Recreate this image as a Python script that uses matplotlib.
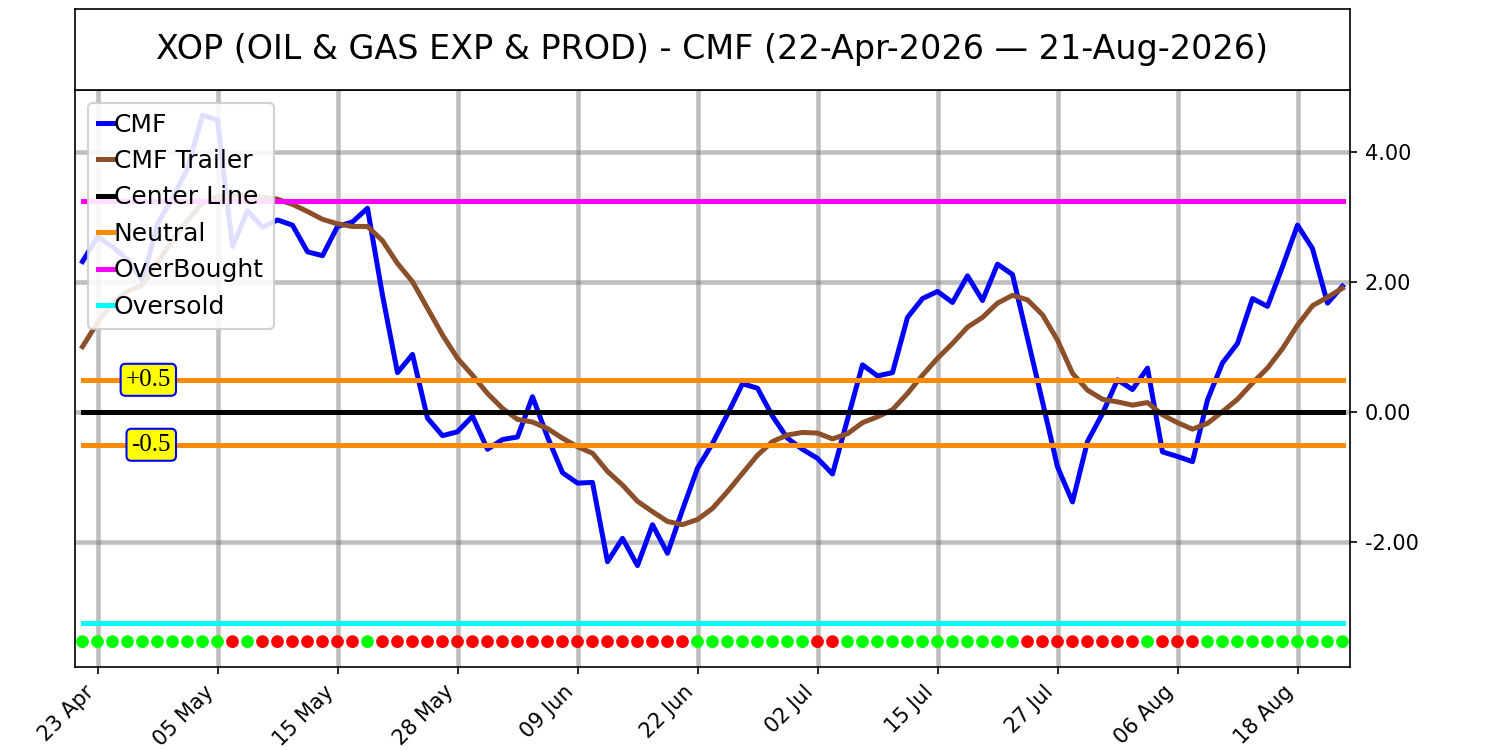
import numpy as np
import matplotlib
matplotlib.use("Agg")
import matplotlib.pyplot as plt

title = "XOP (OIL & GAS EXP & PROD) - CMF (22-Apr-2026 \u2014 21-Aug-2026)"

cmf = [2.32, 2.70, 2.55, 2.35, 2.02, 2.90, 3.30, 3.75, 4.57, 4.50,
       2.55, 3.10, 2.85, 2.96, 2.88, 2.47, 2.41, 2.86, 2.93, 3.14,
       1.80, 0.61, 0.89, -0.09, -0.36, -0.30, -0.06, -0.57, -0.42, -0.38,
       0.24, -0.38, -0.93, -1.09, -1.08, -2.30, -1.94, -2.36, -1.73, -2.17,
       -1.50, -0.86, -0.48, -0.03, 0.44, 0.37, -0.06, -0.40, -0.57, -0.71,
       -0.95, -0.11, 0.73, 0.56, 0.61, 1.46, 1.75, 1.86, 1.69, 2.10,
       1.72, 2.28, 2.12, 1.14, 0.16, -0.84, -1.38, -0.45, -0.02, 0.50,
       0.35, 0.68, -0.61, -0.68, -0.76, 0.19, 0.76, 1.06, 1.75, 1.63,
       2.24, 2.88, 2.52, 1.68, 1.94]

trailer = [1.01, 1.38, 1.68, 1.86, 1.96, 2.30, 2.65, 2.95, 3.22, 3.32,
           3.33, 3.33, 3.31, 3.28, 3.20, 3.09, 2.97, 2.90, 2.86, 2.86,
           2.64, 2.29, 2.01, 1.60, 1.19, 0.83, 0.57, 0.29, 0.06, -0.11,
           -0.15, -0.25, -0.40, -0.53, -0.63, -0.91, -1.12, -1.37, -1.53, -1.68,
           -1.73, -1.65, -1.48, -1.22, -0.94, -0.66, -0.45, -0.35, -0.31, -0.32,
           -0.41, -0.33, -0.16, -0.07, 0.04, 0.29, 0.57, 0.83, 1.06, 1.31,
           1.46, 1.68, 1.80, 1.73, 1.50, 1.11, 0.60, 0.34, 0.20, 0.16,
           0.11, 0.15, -0.04, -0.16, -0.26, -0.17, 0.01, 0.20, 0.45, 0.68,
           0.98, 1.34, 1.64, 1.77, 1.91]

# 1 = green dot, 0 = red dot
signal = [1]*10 + [0] + [1] + [0]*7 + [1] + [0]*21 + [1]*8 + [0]*2 + \
         [1]*12 + [0]*8 + [1] + [0]*3 + [1]*10

tick_pos = [1, 9, 17, 25, 33, 41, 49, 57, 65, 73, 81]
tick_labels = ["23 Apr", "05 May", "15 May", "28 May", "09 Jun", "22 Jun",
               "02 Jul", "15 Jul", "27 Jul", "06 Aug", "18 Aug"]

center = 0.0
neutral = 0.5
overbought = 3.25
oversold = -3.25
dot_level = -3.53

n = len(cmf)
x = np.arange(n)
ones = np.ones(n)

fig = plt.figure(figsize=(10, 5), dpi=150)
ax = fig.add_axes([0.05, 0.1107, 0.85, 0.7693])
tax = fig.add_axes([0.05, 0.88, 0.85, 0.108])
tax.set_xticks([])
tax.set_yticks([])
tax.text(0.5, 0.5, title, ha="center", va="center", fontsize=16,
         transform=tax.transAxes)

lw = 2.4
ax.plot(x, cmf, color="blue", lw=lw, label="CMF")
ax.plot(x, trailer, color="#8B4F2A", lw=lw, label="CMF Trailer")
ax.plot(x, ones*center, color="black", lw=lw, label="Center Line")
ax.plot(x, ones*neutral, color="darkorange", lw=lw, label="Neutral")
ax.plot(x, ones*-neutral, color="darkorange", lw=lw)
ax.plot(x, ones*overbought, color="magenta", lw=lw, label="OverBought")
ax.plot(x, ones*oversold, color="cyan", lw=lw, label="Oversold")

cols = ["lime" if s else "red" for s in signal]
ax.scatter(x, ones*dot_level, c=cols, s=26, zorder=3)

box = dict(boxstyle="round,pad=0.2", fc="yellow", ec="blue")
ax.text(5.9, neutral, "+0.5", ha="right", va="center", fontsize=12,
        family=["Liberation Serif"], bbox=box)
ax.text(5.9, -neutral, "-0.5", ha="right", va="center", fontsize=12,
        family=["Liberation Serif"], bbox=box)

ax.set_xlim(-0.5, 84.5)
ax.set_ylim(-3.92, 4.96)
ax.set_xticks(tick_pos)
ax.set_xticklabels(tick_labels, rotation=45, ha="right")
ax.set_yticks([-2, 0, 2, 4])
ax.yaxis.tick_right()
ax.yaxis.set_major_formatter(matplotlib.ticker.FormatStrFormatter("%.2f"))
ax.grid(True, color="gray", alpha=0.5, lw=2.2)
ax.set_axisbelow(True)

ax.legend(loc="upper left", fontsize=12, handlelength=0.6,
          handletextpad=0.05, labelspacing=0.5, borderpad=0.4,
          framealpha=0.88)

fig.savefig("out.png")
